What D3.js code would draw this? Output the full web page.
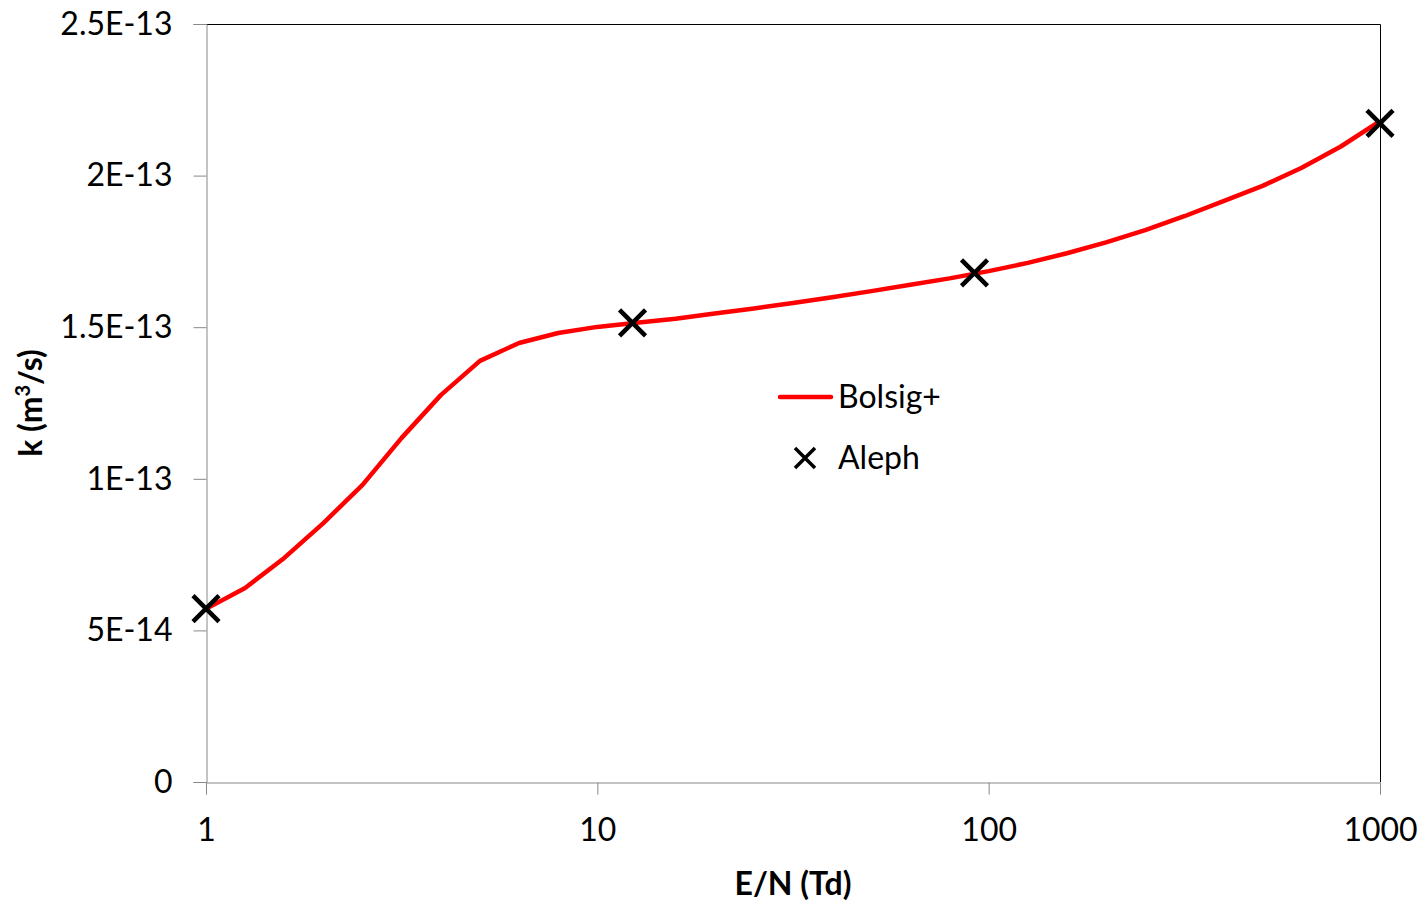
<!DOCTYPE html>
<html>
<head>
<meta charset="utf-8">
<script src="https://cdn.jsdelivr.net/npm/d3@7"></script>
<style>
  body { margin: 0; background: #fff; }
  text { font-family: Lato, "Open Sans", sans-serif; fill: #000; }
</style>
</head>
<body>
<script>

// Bolsig+ curve, E/N (Td) and rate coefficient k (m3/s)
var bolsigEN = [1, 1.259, 1.585, 1.995, 2.512, 3.162, 3.981, 5.012, 6.310, 7.943,
                10, 12.59, 15.85, 19.95, 25.12, 31.62, 39.81, 50.12, 63.10, 79.43,
                100, 125.9, 158.5, 199.5, 251.2, 316.2, 398.1, 501.2, 631.0, 794.3, 1000];
var bolsigK  = [5.71e-14, 6.40e-14, 7.39e-14, 8.54e-14, 9.80e-14, 1.135e-13, 1.276e-13, 1.389e-13, 1.448e-13, 1.481e-13,
                1.501e-13, 1.515e-13, 1.528e-13, 1.545e-13, 1.562e-13, 1.580e-13, 1.599e-13, 1.619e-13, 1.640e-13, 1.661e-13,
                1.685e-13, 1.712e-13, 1.744e-13, 1.780e-13, 1.820e-13, 1.866e-13, 1.916e-13, 1.966e-13, 2.026e-13, 2.096e-13, 2.180e-13];

// Aleph points
var alephEN = [1, 12.3, 92, 1000];
var alephK  = [5.72e-14, 1.514e-13, 1.679e-13, 2.172e-13];

var xTicks      = [1, 10, 100, 1000];
var yTicks      = [0, 5e-14, 1e-13, 1.5e-13, 2e-13, 2.5e-13];
var yTickLabels = ["0", "5E-14", "1E-13", "1.5E-13", "2E-13", "2.5E-13"];

var W = 1426, H = 904;
var m = {left: 206, right: 1380, top: 24, bottom: 782};

var svg = d3.select("body").append("svg")
    .attr("width", W)
    .attr("height", H);

var x = d3.scaleLog().domain([1, 1000]).range([m.left, m.right]);
var y = d3.scaleLinear().domain([0, 2.5e-13]).range([m.bottom, m.top]);

// plot area border (top / right)
svg.append("path")
    .attr("d", "M" + m.left + "," + (m.top + 0.5) + "H" + (m.right + 0.5) + "V" + m.bottom)
    .attr("fill", "none")
    .attr("stroke", "#000")
    .attr("stroke-width", 1);

// y axis
var yAxis = svg.append("g")
    .attr("transform", "translate(" + (m.left + 0.5) + ",0)")
    .call(d3.axisLeft(y).tickValues(yTicks).tickSize(13)
        .tickFormat(function(d, i) { return yTickLabels[i]; }));
yAxis.select(".domain").attr("stroke", "#888");
yAxis.selectAll(".tick line").attr("stroke", "#888");
yAxis.selectAll(".tick text")
    .attr("x", -34)
    .attr("font-size", 32)
    .attr("fill", "#000");

// x axis
var xAxis = svg.append("g")
    .attr("transform", "translate(0," + (m.bottom + 0.5) + ")")
    .call(d3.axisBottom(x).tickValues(xTicks).tickSize(12)
        .tickFormat(d3.format("d")));
xAxis.select(".domain").attr("stroke", "#888");
xAxis.selectAll(".tick line").attr("stroke", "#888");
xAxis.selectAll(".tick text")
    .attr("y", 36)
    .attr("font-size", 32)
    .attr("fill", "#000");

// axis titles
svg.append("text")
    .attr("x", 793)
    .attr("y", 895)
    .attr("text-anchor", "middle")
    .attr("font-size", 32)
    .attr("font-weight", "bold")
    .text("E/N (Td)");

var yt = svg.append("text")
    .attr("transform", "translate(42,403) rotate(-90)")
    .attr("text-anchor", "middle")
    .attr("font-size", 32)
    .attr("font-weight", "bold");
yt.append("tspan").text("k (m");
yt.append("tspan").attr("font-size", 20).attr("dy", -12).text("3");
yt.append("tspan").attr("dy", 12).text("/s)");

// Bolsig+ line
var bolsig = bolsigEN.map(function(d, i) { return {x: d, k: bolsigK[i]}; });
var line = d3.line()
    .x(function(d) { return x(d.x); })
    .y(function(d) { return y(d.k); });

svg.append("path")
    .datum(bolsig)
    .attr("d", line)
    .attr("fill", "none")
    .attr("stroke", "#ff0000")
    .attr("stroke-width", 4.5)
    .attr("stroke-linejoin", "round");

// Aleph markers
var cross = function(s) {
    return "M" + (-s) + "," + (-s) + "L" + s + "," + s + "M" + (-s) + "," + s + "L" + s + "," + (-s);
};
var aleph = alephEN.map(function(d, i) { return {x: d, k: alephK[i]}; });
svg.selectAll(".aleph")
    .data(aleph)
    .enter().append("path")
    .attr("class", "aleph")
    .attr("transform", function(d) { return "translate(" + x(d.x) + "," + y(d.k) + ")"; })
    .attr("d", cross(13))
    .attr("stroke", "#000")
    .attr("stroke-width", 4.5)
    .attr("fill", "none");

// legend
var lg = svg.append("g");
lg.append("line")
    .attr("x1", 780).attr("x2", 831)
    .attr("y1", 397).attr("y2", 397)
    .attr("stroke", "#ff0000")
    .attr("stroke-width", 4.5)
    .attr("stroke-linecap", "round");
lg.append("text")
    .attr("x", 838).attr("y", 397)
    .attr("dy", "0.35em")
    .attr("font-size", 32)
    .text("Bolsig+");
lg.append("path")
    .attr("transform", "translate(805,458)")
    .attr("d", cross(10))
    .attr("stroke", "#000")
    .attr("stroke-width", 3.5)
    .attr("fill", "none");
lg.append("text")
    .attr("x", 838).attr("y", 458)
    .attr("dy", "0.35em")
    .attr("font-size", 32)
    .text("Aleph");

</script>
</body>
</html>
